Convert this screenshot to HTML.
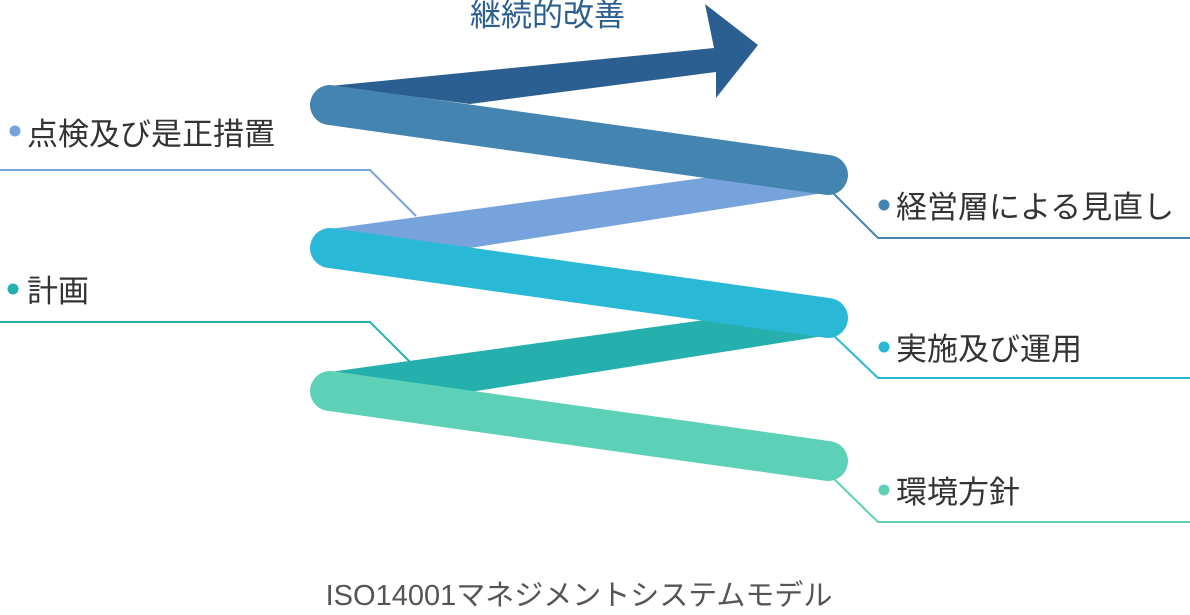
<!DOCTYPE html>
<html><head><meta charset="utf-8"><style>
html,body{margin:0;padding:0;background:#fff;}
body{width:1190px;height:610px;overflow:hidden;}
text{font-family:"Liberation Sans","Noto Sans CJK JP",sans-serif;}
</style></head><body>
<svg width="1190" height="610" viewBox="0 0 1190 610">
<g fill="none" stroke-width="2">
<polyline points="0,170 370,170 416,216" stroke="#76a3dc"/>
<polyline points="0,322 370,322 410,362" stroke="#26b0ad"/>
<polyline points="830,190 878,238 1190,238" stroke="#4384b0"/>
<polyline points="830,332 878,378 1190,378" stroke="#29b9d6"/>
<polyline points="830,475 878,522 1190,522" stroke="#5dd0b8"/>
</g>
<polygon points="330,86 714,48 705,4 758,45 716,98 716,72 470,104" fill="#2c5f91"/>
<polygon points="330,229 820,162 830,192 470,248" fill="#76a3dc"/>
<polygon points="330,372 820,304 830,335 470,392" fill="#26b0ad"/>
<g stroke-width="40" stroke-linecap="round">
<line x1="330" y1="105" x2="828" y2="175" stroke="#4384b0"/>
<line x1="330" y1="248" x2="828" y2="318" stroke="#29b9d6"/>
<line x1="330" y1="391" x2="828" y2="461" stroke="#5dd0b8"/>
</g>
<text x="470" y="26" font-size="31" fill="#2c5f91">継続的改善</text>
<circle cx="15" cy="131" r="5.5" fill="#76a3dc"/>
<text x="27" y="145" font-size="31" fill="#333">点検及び是正措置</text>
<circle cx="13" cy="289" r="5.5" fill="#26b0ad"/>
<text x="27" y="302" font-size="31" fill="#333">計画</text>
<circle cx="884" cy="205" r="5.5" fill="#4384b0"/>
<text x="896" y="218" font-size="31" fill="#333">経営層による見直し</text>
<circle cx="884" cy="347" r="5.5" fill="#29b9d6"/>
<text x="896" y="360" font-size="31" fill="#333">実施及び運用</text>
<circle cx="884" cy="490" r="5.5" fill="#5dd0b8"/>
<text x="896" y="503" font-size="31" fill="#333">環境方針</text>
<text x="579" y="605" font-size="29" fill="#555" text-anchor="middle">ISO14001マネジメントシステムモデル</text>
</svg>
</body></html>
